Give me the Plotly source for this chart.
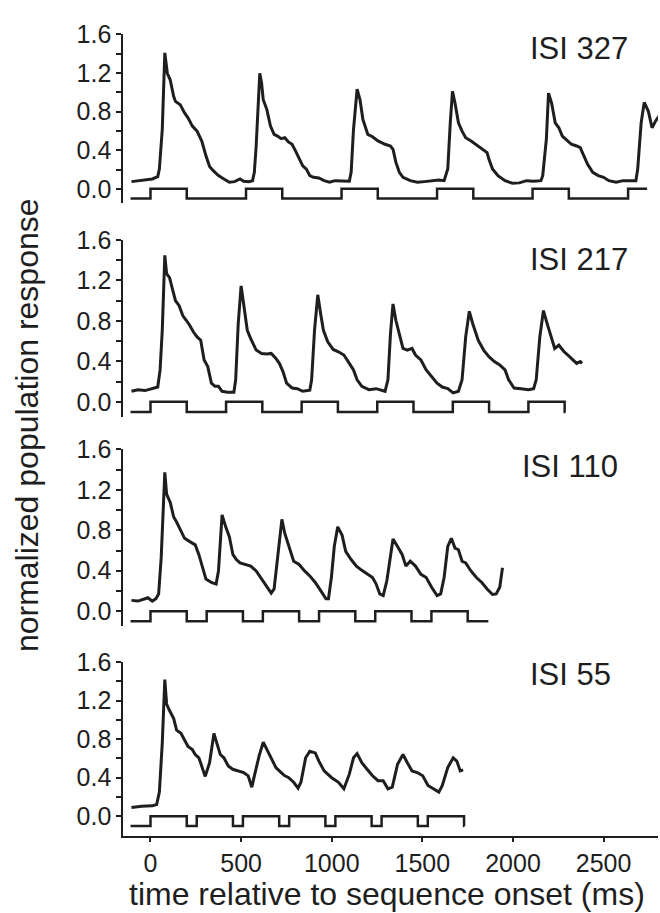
import plotly.graph_objects as go

# ---- population responses (normalized), time in ms relative to sequence onset ----
t_isi327 = [-105, -69, -30, 10, 40, 49, 65, 79, 93, 109, 128, 138, 164, 188, 207, 231, 257, 283, 306, 326,
            346, 375, 405, 435, 464, 494, 514, 543, 563, 573, 583, 593, 603, 613, 622, 642, 662, 682, 701,
            721, 741, 761, 781, 800, 820, 840, 860, 879, 899, 929, 958, 988, 1018, 1057, 1097, 1107, 1120,
            1140, 1156, 1172, 1186, 1199, 1225, 1255, 1294, 1324, 1338, 1354, 1373, 1393, 1433, 1472, 1512,
            1551, 1591, 1620, 1640, 1654, 1666, 1680, 1699, 1719, 1739, 1769, 1808, 1838, 1857, 1867, 1887,
            1917, 1956, 1996, 2035, 2075, 2114, 2154, 2164, 2184, 2196, 2213, 2233, 2253, 2272, 2292, 2322,
            2351, 2371, 2391, 2411, 2440, 2470, 2500, 2529, 2569, 2608, 2638, 2678, 2688, 2707, 2724, 2747,
            2767, 2786, 2812]
r_isi327 = [0.075, 0.085, 0.092, 0.103, 0.127, 0.205, 0.615, 1.409, 1.197, 1.128, 0.957, 0.906, 0.872, 0.786,
            0.735, 0.650, 0.598, 0.496, 0.342, 0.232, 0.188, 0.137, 0.103, 0.068, 0.075, 0.103, 0.079, 0.075,
            0.085, 0.171, 0.444, 0.855, 1.197, 1.094, 0.923, 0.821, 0.650, 0.564, 0.547, 0.520, 0.530, 0.486,
            0.462, 0.393, 0.308, 0.239, 0.205, 0.137, 0.120, 0.113, 0.085, 0.068, 0.085, 0.085, 0.079, 0.171,
            0.615, 1.033, 0.923, 0.718, 0.633, 0.564, 0.540, 0.496, 0.462, 0.444, 0.410, 0.274, 0.171, 0.120,
            0.085, 0.068, 0.075, 0.085, 0.092, 0.085, 0.205, 0.684, 1.009, 0.889, 0.684, 0.598, 0.530, 0.496,
            0.444, 0.410, 0.376, 0.308, 0.205, 0.137, 0.085, 0.058, 0.062, 0.085, 0.079, 0.085, 0.137, 0.513,
            0.991, 0.889, 0.684, 0.633, 0.547, 0.513, 0.462, 0.444, 0.427, 0.342, 0.256, 0.171, 0.137, 0.120,
            0.085, 0.068, 0.085, 0.085, 0.085, 0.205, 0.684, 0.896, 0.803, 0.633, 0.701, 0.769]

t_isi217 = [-105, -69, -30, 10, 40, 53, 65, 79, 89, 105, 119, 138, 158, 178, 198, 217, 237, 257, 277, 296,
            316, 336, 356, 375, 395, 425, 460, 470, 484, 500, 514, 534, 553, 583, 613, 642, 666, 692, 711,
            731, 751, 781, 810, 840, 879, 889, 905, 923, 939, 954, 978, 1008, 1037, 1067, 1097, 1120, 1140,
            1166, 1205, 1245, 1294, 1310, 1324, 1338, 1354, 1373, 1393, 1417, 1443, 1462, 1492, 1521, 1551,
            1581, 1610, 1640, 1670, 1699, 1719, 1739, 1759, 1778, 1808, 1838, 1867, 1897, 1927, 1956, 1976,
            2006, 2045, 2085, 2114, 2128, 2148, 2168, 2186, 2206, 2230, 2253, 2282, 2312, 2332, 2351, 2371,
            2381]
r_isi217 = [0.104, 0.120, 0.111, 0.127, 0.146, 0.315, 0.706, 1.447, 1.265, 1.226, 1.128, 0.998, 0.950, 0.852,
            0.803, 0.754, 0.689, 0.641, 0.608, 0.413, 0.348, 0.185, 0.153, 0.153, 0.104, 0.094, 0.094, 0.218,
            0.771, 1.145, 0.966, 0.706, 0.624, 0.511, 0.478, 0.472, 0.478, 0.429, 0.380, 0.299, 0.185, 0.137,
            0.130, 0.104, 0.114, 0.218, 0.706, 1.057, 0.868, 0.706, 0.592, 0.517, 0.494, 0.462, 0.380, 0.315,
            0.218, 0.153, 0.120, 0.130, 0.104, 0.218, 0.673, 0.966, 0.803, 0.673, 0.527, 0.511, 0.527, 0.462,
            0.413, 0.315, 0.250, 0.185, 0.146, 0.130, 0.088, 0.104, 0.218, 0.641, 0.894, 0.771, 0.608, 0.511,
            0.446, 0.397, 0.364, 0.315, 0.218, 0.137, 0.130, 0.120, 0.130, 0.218, 0.641, 0.901, 0.787, 0.673,
            0.527, 0.559, 0.494, 0.446, 0.413, 0.380, 0.397, 0.380]

t_isi110 = [-105, -69, -30, -14, 10, 30, 45, 59, 79, 89, 109, 128, 144, 168, 188, 217, 247, 267, 286, 306,
            336, 362, 375, 395, 415, 435, 455, 474, 494, 524, 553, 583, 613, 642, 666, 682, 701, 725, 741,
            761, 790, 820, 850, 879, 909, 939, 968, 982, 998, 1014, 1033, 1057, 1077, 1107, 1136, 1166, 1195,
            1225, 1245, 1265, 1284, 1304, 1324, 1338, 1363, 1389, 1409, 1433, 1462, 1492, 1521, 1551, 1581,
            1601, 1620, 1640, 1660, 1680, 1699, 1719, 1739, 1768, 1798, 1828, 1857, 1887, 1907, 1927, 1942]
r_isi110 = [0.107, 0.100, 0.123, 0.133, 0.100, 0.123, 0.171, 0.527, 1.374, 1.157, 1.076, 0.931, 0.882, 0.802,
            0.721, 0.688, 0.656, 0.559, 0.430, 0.317, 0.284, 0.268, 0.398, 0.953, 0.834, 0.737, 0.559, 0.511,
            0.478, 0.462, 0.446, 0.398, 0.317, 0.236, 0.178, 0.220, 0.527, 0.908, 0.769, 0.656, 0.494, 0.462,
            0.398, 0.349, 0.284, 0.204, 0.123, 0.123, 0.333, 0.640, 0.834, 0.753, 0.591, 0.511, 0.446, 0.404,
            0.365, 0.333, 0.268, 0.171, 0.155, 0.301, 0.543, 0.714, 0.640, 0.559, 0.446, 0.494, 0.446, 0.365,
            0.333, 0.236, 0.155, 0.171, 0.333, 0.640, 0.721, 0.624, 0.608, 0.494, 0.478, 0.398, 0.333, 0.284,
            0.220, 0.165, 0.171, 0.236, 0.430]

t_isi55 = [-105, -49, 10, 34, 49, 65, 79, 89, 105, 128, 144, 168, 188, 207, 231, 247, 267, 286, 302, 326,
           350, 366, 385, 405, 429, 454, 484, 514, 539, 559, 573, 599, 622, 642, 662, 692, 721, 741, 761,
           790, 814, 830, 856, 879, 909, 929, 958, 998, 1037, 1067, 1097, 1120, 1140, 1166, 1195, 1225, 1255,
           1284, 1310, 1334, 1363, 1393, 1417, 1443, 1472, 1502, 1531, 1561, 1591, 1610, 1640, 1670, 1690,
           1709, 1725]
r_isi55 = [0.092, 0.105, 0.108, 0.122, 0.251, 0.759, 1.420, 1.166, 1.098, 1.014, 0.895, 0.861, 0.793, 0.725,
           0.692, 0.641, 0.607, 0.488, 0.414, 0.556, 0.861, 0.759, 0.641, 0.607, 0.522, 0.488, 0.471, 0.454,
           0.420, 0.302, 0.420, 0.624, 0.770, 0.692, 0.607, 0.505, 0.454, 0.420, 0.403, 0.353, 0.292, 0.353,
           0.607, 0.675, 0.658, 0.573, 0.471, 0.403, 0.353, 0.285, 0.437, 0.607, 0.651, 0.556, 0.488, 0.420,
           0.369, 0.369, 0.285, 0.302, 0.539, 0.641, 0.556, 0.471, 0.454, 0.420, 0.319, 0.285, 0.251, 0.319,
           0.505, 0.607, 0.573, 0.471, 0.481]

# ---- stimulus sequences: onset times (ms), 200 ms stimuli ----
stim_duration = 200
onsets_isi327 = [0, 527, 1054, 1581, 2108, 2635]
onsets_isi217 = [0, 417, 834, 1251, 1668, 2085]
onsets_isi110 = [0, 310, 620, 930, 1240, 1550]
onsets_isi55 = [0, 255, 510, 765, 1020, 1275, 1530]
seq_start = -110
seq_end = [2740, 2290, 1864, 1732]

panel_labels = ["ISI 327", "ISI 217", "ISI 110", "ISI 55"]
label_pos = [(2085, 1.45), (2085, 1.41), (2040, 1.43), (2085, 1.47)]
x_ticks = [0, 500, 1000, 1500, 2000, 2500]

STIM_LOW, STIM_HIGH = -0.1, 0.0
INK = "#1e1e1e"
FONT = "Liberation Sans, Arial, Helvetica, sans-serif"
W, H = 660, 913


def stimulus_trace(onsets, end):
    xs, ys = [seq_start], [STIM_LOW]
    for on in onsets:
        off = on + stim_duration
        xs += [on, on]
        ys += [STIM_LOW, STIM_HIGH]
        if off < end:
            xs += [off, off]
            ys += [STIM_HIGH, STIM_LOW]
        else:
            xs.append(end)
            ys.append(STIM_HIGH)
            return xs, ys
    xs.append(end)
    ys.append(STIM_LOW)
    return xs, ys


responses = [(t_isi327, r_isi327), (t_isi217, r_isi217), (t_isi110, r_isi110), (t_isi55, r_isi55)]
onset_sets = [onsets_isi327, onsets_isi217, onsets_isi110, onsets_isi55]

# panel extents in pixels (top of axis = 1.6, bottom of axis)
panel_px = [(20.7, 192.3), (229.3, 409.3), (442.2, 621.9), (658.3, 834.3)]
y_ranges = [[-0.15, 1.6], [-0.15, 1.6], [-0.15, 1.6], [-0.2, 1.6]]
x_dom = [123.3 / W, 658.0 / W]
x_range = [-150, 2800]

fig = go.Figure()
layout = dict(
    width=W, height=H,
    margin=dict(l=0, r=0, t=0, b=0),
    paper_bgcolor="white", plot_bgcolor="white",
    showlegend=False,
    font=dict(family=FONT, color=INK, size=25),
)

annotations = []
for i in range(4):
    n = "" if i == 0 else str(i + 1)
    xa, ya = "x" + n, "y" + n
    t, r = responses[i]
    sx, sy = stimulus_trace(onset_sets[i], seq_end[i])
    fig.add_trace(go.Scatter(x=sx, y=sy, mode="lines", xaxis=xa, yaxis=ya,
                             line=dict(color=INK, width=2.5), hoverinfo="skip"))
    fig.add_trace(go.Scatter(x=t, y=r, mode="lines", xaxis=xa, yaxis=ya,
                             line=dict(color=INK, width=3)))

    top, bot = panel_px[i]
    ydom = [1 - bot / H, 1 - top / H]
    bottom_panel = i == 3
    layout["xaxis" + n] = dict(
        domain=x_dom, range=x_range, anchor=ya,
        visible=bottom_panel,
        showline=True, linecolor=INK, linewidth=2,
        ticks="outside", ticklen=4, tickwidth=1.5, tickcolor=INK,
        tickvals=x_ticks, ticktext=[str(v) for v in x_ticks],
        showgrid=False, zeroline=False,
        tickfont=dict(size=25, family=FONT, color=INK),
    )
    layout["yaxis" + n] = dict(
        domain=ydom, range=y_ranges[i], anchor=xa,
        showline=True, linecolor=INK, linewidth=2,
        ticks="outside", ticklen=5, tickwidth=1.5, tickcolor=INK,
        tickvals=[0.0, 0.4, 0.8, 1.2, 1.6],
        ticktext=["0.0", "0.4", "0.8", "1.2", "1.6"],
        minor=dict(tickvals=[0.2, 0.6, 1.0, 1.4], ticks="outside", ticklen=5,
                   tickwidth=1.5, tickcolor=INK, showgrid=False),
        showgrid=False, zeroline=False,
        tickfont=dict(size=25, family=FONT, color=INK),
    )
    lx, ly = label_pos[i]
    annotations.append(dict(
        text=panel_labels[i], x=lx, y=ly,
        xref=xa, yref=ya, xanchor="left", yanchor="middle",
        showarrow=False, font=dict(size=31, family=FONT, color=INK),
    ))

annotations.append(dict(
    text="time relative to sequence onset (ms)", x=386.5 / W, y=1 - 894 / H,
    xref="paper", yref="paper", xanchor="center", yanchor="middle",
    showarrow=False, font=dict(size=32, family=FONT, color=INK),
))
annotations.append(dict(
    text="normalized population response", x=27 / W, y=1 - 417.5 / H,
    xref="paper", yref="paper", xanchor="center", yanchor="middle", textangle=-90,
    showarrow=False, font=dict(size=32, family=FONT, color=INK),
))
layout["annotations"] = annotations

fig.update_layout(**layout)
fig.write_html("out.html")
